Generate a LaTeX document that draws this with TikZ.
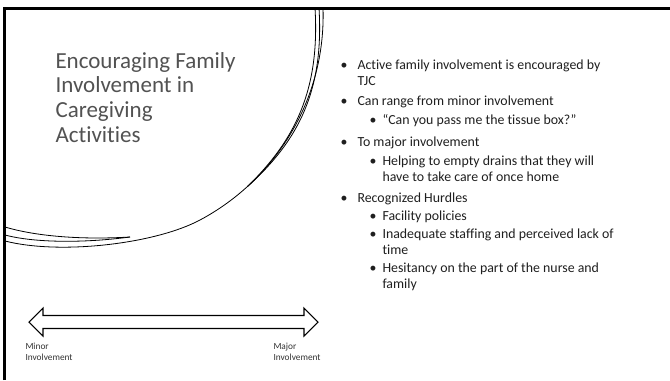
\documentclass[tikz,border=0pt]{standalone}
\usepackage{fontspec}
\setmainfont{Carlito}[Ligatures=NoCommon]
\tikzset{every picture/.style={line width=0.75pt}}
\tikzset{
	slide title/.style={anchor=base west, align=left, inner sep=0pt, text=black!68, font=\fontsize{17.25}{18.5}\selectfont},
	slide text/.style={anchor=base west, align=left, inner sep=0pt, text=black!88, font=\fontsize{10.4}{11.6}\selectfont},
	slide dot/.style={anchor=base, inner sep=0pt, text=black!88, font=\fontsize{10.4}{11.6}\selectfont},
	scale label/.style={anchor=base west, align=left, inner sep=0pt, text=black!80, font=\fontsize{7}{8.25}\selectfont},
	swoosh/.style={line width=0.6}}

\begin{document}
\begin{tikzpicture}[x=0.75pt,y=0.75pt,yscale=-1,xscale=1]
	\useasboundingbox (0,0) rectangle (670,380);

	%Straight Lines (slide frame)
	\draw [line width=1.9]    (4.7,380) -- (4.7,8.5) -- (670,8.5) ;

	%Curve Lines (upper inner swooshes)
	\draw [swoosh]   (315,8) .. controls (320,90) and (295,140) .. (248,186) ;
	\draw [swoosh]   (319,8) .. controls (324,90) and (299,140) .. (248,186) ;
	%Curve Lines (outer swoosh)
	\draw [swoosh]   (323,8) .. controls (326,100) and (275,180) .. (200,220) .. controls (155,244) and (60,255) .. (5,241) ;
	%Curve Lines (lower inner swooshes)
	\draw [swoosh]   (5,227) .. controls (35,236) and (80,240) .. (130,237) ;
	\draw [swoosh]   (5,235) .. controls (35,243) and (85,243) .. (130,237) ;

	%Shape: Left-Right Arrow
	\draw [line width=0.8]   (29,322) -- (43,308) -- (43,315.5) -- (304,315.5) -- (304,308) -- (318,322) -- (304,336) -- (304,328.5) -- (43,328.5) -- (43,336) -- cycle ;

	% Text Node (base = last line)
	\draw (55,142) node [slide title] (title) {Encouraging Family\\Involvement in\\Caregiving\\Activities};

	% Text Node
	\draw (344,69.5) node [slide dot] (dotA) {\textbullet};
	\draw (357,85) node [slide text] (itemA) {Active family involvement is encouraged by\\TJC};
	% Text Node
	\draw (344,105) node [slide dot] (dotB) {\textbullet};
	\draw (357,105) node [slide text] (itemB) {Can range from minor involvement};
	\draw (373,124) node [slide dot] (dotBa) {\textbullet};
	\draw (382,124) node [slide text] (itemBa) {“Can you pass me the tissue box?”};
	% Text Node
	\draw (344,146) node [slide dot] (dotC) {\textbullet};
	\draw (357,146) node [slide text] (itemC) {To major involvement};
	\draw (373,165.5) node [slide dot] (dotCa) {\textbullet};
	\draw (382,181) node [slide text] (itemCa) {Helping to empty drains that they will\\have to take care of once home};
	% Text Node
	\draw (344,202) node [slide dot] (dotD) {\textbullet};
	\draw (357,202) node [slide text] (itemD) {Recognized Hurdles};
	\draw (373,220) node [slide dot] (dotDa) {\textbullet};
	\draw (382,220) node [slide text] (itemDa) {Facility policies};
	\draw (373,238.5) node [slide dot] (dotDb) {\textbullet};
	\draw (382,254) node [slide text] (itemDb) {Inadequate staffing and perceived lack of\\time};
	\draw (373,272.5) node [slide dot] (dotDc) {\textbullet};
	\draw (382,288) node [slide text] (itemDc) {Hesitancy on the part of the nurse and\\family};

	% Text Node
	\draw (25,360) node [scale label] (minor) {Minor\\Involvement};
	% Text Node
	\draw (273,360) node [scale label] (major) {Major\\Involvement};

\end{tikzpicture}
\end{document}
